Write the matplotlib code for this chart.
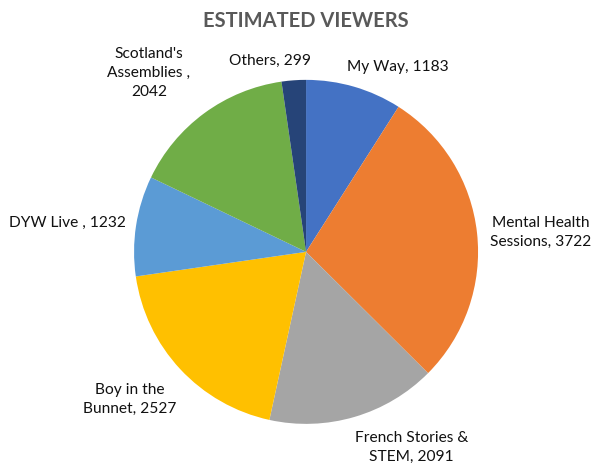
import numpy as np
import matplotlib
matplotlib.use("Agg")
import matplotlib.pyplot as plt

# data
labels = ["My Way", "Mental Health\nSessions", "French Stories &\nSTEM", "Boy in the\nBunnet",
          "DYW Live ", "Scotland's\nAssemblies ", "Others"]
viewers = [1183, 3722, 2091, 2527, 1232, 2042, 299]
# value goes on its own line for some labels
value_sep = [", ", ", ", ", ", ", ", ", ", ",\n", ", "]

colors = ["#4472C4", "#ED7D31", "#A5A5A5", "#FFC000", "#5B9BD5", "#70AD47", "#264478"]

# label placement: (radius factor, angle shift in degrees from wedge centre)
lbl_dist = [1.20, 1.37, 1.29, 1.34, 1.40, 1.385, 1.13]
lbl_shift = [-10.0, -1.5, 12.0, -3.0, 1.8, 5.0, 6.6]

plt.rcParams["font.family"] = ["Lato", "DejaVu Sans"]

fig = plt.figure(figsize=(6.06, 4.63), dpi=100, facecolor="white")
ax = fig.add_axes([0.505 - 0.2838, 0.456 - 0.3715, 0.5677, 0.743])

wedges, _ = ax.pie(viewers, colors=colors, startangle=90, counterclock=False,
                   wedgeprops=dict(linewidth=0))
ax.set_aspect("equal")
ax.set_xlim(-1, 1)
ax.set_ylim(-1, 1)

for w, lab, v, sep, d, s in zip(wedges, labels, viewers, value_sep, lbl_dist, lbl_shift):
    mid = np.deg2rad((w.theta1 + w.theta2) / 2 + s)
    ax.text(d * np.cos(mid), d * np.sin(mid), f"{lab}{sep}{v}", ha="center", va="center",
            fontsize=11.2, color="#111111", linespacing=1.45, clip_on=False)

fig.text(0.505, 0.955, "ESTIMATED VIEWERS", ha="center", va="center", fontsize=14.5,
         fontweight="bold", color="#595959")

fig.savefig("out.png", dpi=100, facecolor="white")
